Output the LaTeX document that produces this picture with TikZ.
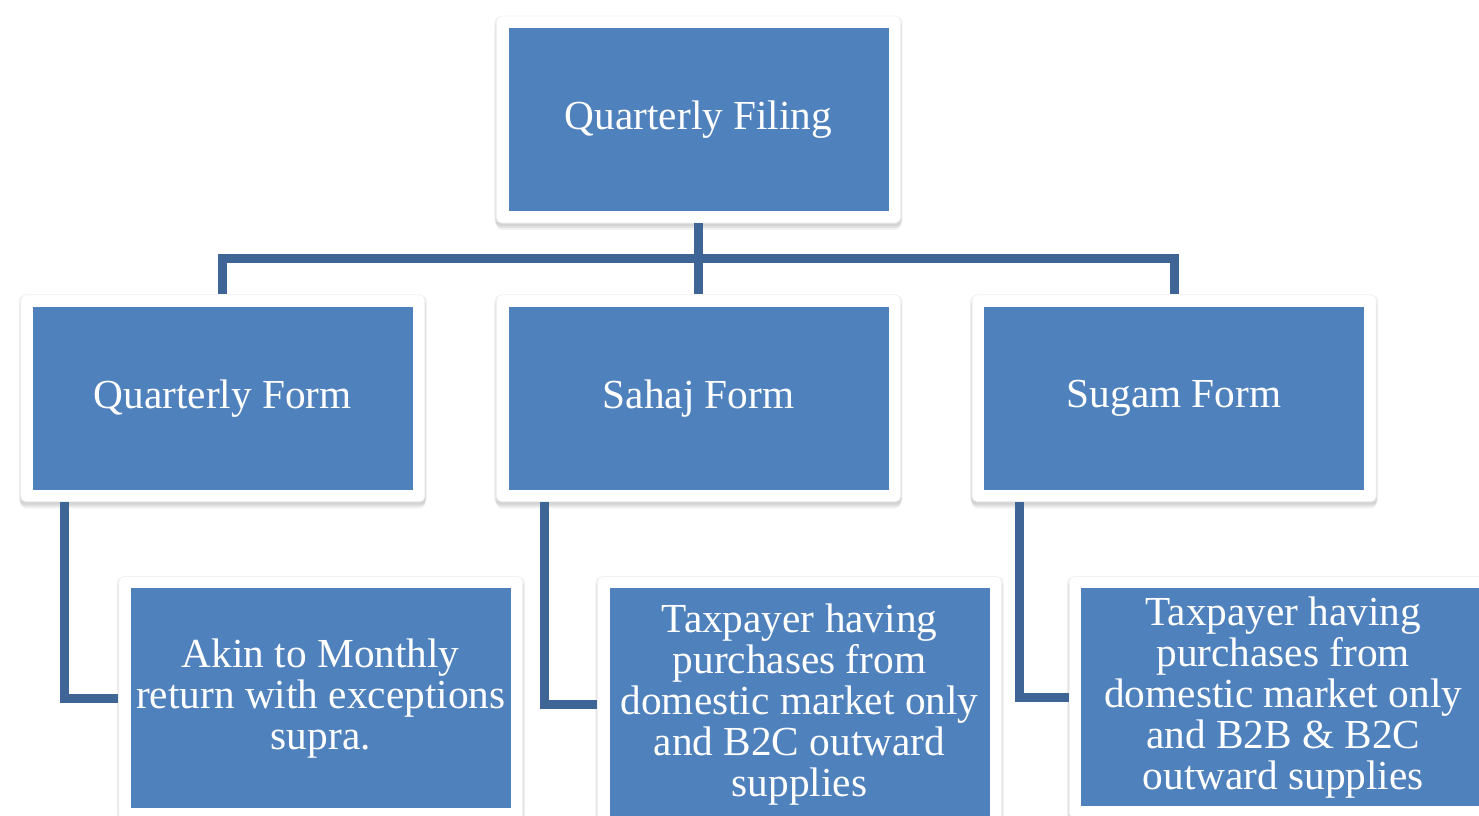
\documentclass[tikz,border=0pt]{standalone}
\usepackage{fontspec}
\setmainfont{Liberation Serif}
\usetikzlibrary{positioning,shadows}

\definecolor{boxblue}{HTML}{4F81BD}
\definecolor{linkblue}{HTML}{3E6596}

\tikzset{
	frame/.style={rectangle, fill=white, draw=black!6, rounded corners=3pt,
		minimum width=8.08cm, minimum height=4.14cm, inner sep=0pt,
		align=center, text=white,
		font=\fontsize{23.5}{23.3}\selectfont,
		drop shadow={shadow xshift=0pt, shadow yshift=-1pt, shadow scale=1.01, opacity=.06, fill=black},
		drop shadow={shadow xshift=0pt, shadow yshift=-2.5pt, shadow scale=1.005, opacity=.07, fill=black},
		drop shadow={shadow xshift=0pt, shadow yshift=-4pt, opacity=.05, fill=black},
		path picture={\fill[boxblue, sharp corners]
			([shift={(0.24cm,-0.24cm)}]path picture bounding box.north west) rectangle
			([shift={(-0.24cm,0.24cm)}]path picture bounding box.south east);}},
	leaf/.style={frame, minimum height=5.12cm},
	link/.style={draw=linkblue, line width=0.18cm}
}

\begin{document}
\begin{tikzpicture}[node distance=1.42cm]
	\path[use as bounding box] (0,0) rectangle (29.58,-16.3);
	\clip (0,0) rectangle (29.58,-16.3);

	% top level
	\node[frame] (filing) at (13.97,-2.39) {Quarterly Filing};

	% second level
	\node[frame, below=of filing] (sahaj) {Sahaj Form};
	\node[frame, left=of sahaj] (qform) {Quarterly Form};
	\node[frame, right=of sahaj] (sugam) {Sugam Form};

	% third level
	\node[frame, minimum height=4.88cm, anchor=north west] (akin)
		at ([xshift=1.96cm,yshift=-1.48cm]qform.south west)
		{Akin to Monthly\\return with exceptions\\supra.};
	\node[leaf, anchor=north west] (sahajtxt)
		at ([xshift=2.02cm,yshift=-1.48cm]sahaj.south west)
		{Taxpayer having\\purchases from\\domestic market only\\and B2C outward\\supplies};
	\node[leaf, minimum width=8.56cm, minimum height=4.84cm, anchor=north west] (sugamtxt)
		at ([xshift=1.94cm,yshift=-1.48cm]sugam.south west)
		{Taxpayer having\\purchases from\\domestic market only\\and B2B \& B2C\\outward supplies};

	% connectors
	\coordinate (bar) at ([yshift=-0.71cm]filing.south);
	\draw[link] (filing.south) -- (sahaj.north);
	\draw[link] (qform.north) |- (bar) -| (sugam.north);

	\draw[link] ([xshift=0.88cm]qform.south west) |- (akin.west);
	\draw[link] ([xshift=0.96cm]sahaj.south west) |- (sahajtxt.west);
	\draw[link] ([xshift=0.95cm]sugam.south west) |- (sugamtxt.west);
\end{tikzpicture}
\end{document}
